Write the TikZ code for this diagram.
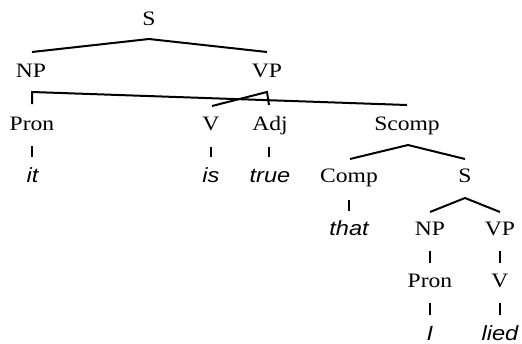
\documentclass[tikz,border=0pt]{standalone}
\usepackage{fontspec}
\setmainfont[FakeStretch=1.15]{Liberation Serif}
\newfontfamily\wordfont[FakeStretch=1.15]{Liberation Sans}
\begin{document}
\begin{tikzpicture}[x=1pt,y=-1pt,
  cat/.style={anchor=base,inner sep=0pt,font=\fontsize{20.5}{21}\selectfont},
  word/.style={anchor=base,inner sep=0pt,font=\fontsize{20.5}{21}\selectfont\wordfont\itshape},
  branch/.style={line width=2pt,line join=miter},
  tick/.style={line width=2pt}]
\useasboundingbox (0,0) rectangle (522,343);
% row 1
\node[cat] (S) at (149,25) {S};
% row 2
\node[cat] (NP) at (31,77.5) {NP};
\node[cat] (VP) at (267,77.5) {VP};
% row 3
\node[cat] (Pron) at (32,130) {Pron};
\node[cat] (V) at (211,130) {V};
\node[cat] (Adj) at (270,130) {Adj};
\node[cat] (Scomp) at (407,130) {Scomp};
% row 4
\node[word] (it) at (32.5,182.5) {it};
\node[word] (is) at (211,182.5) {is};
\node[word] (true) at (270,182.5) {true};
\node[cat] (Comp) at (349,182.5) {Comp};
\node[cat] (S2) at (465,182.5) {S};
% row 5
\node[word] (that) at (349,235) {that};
\node[cat] (NP2) at (430,235) {NP};
\node[cat] (VP2) at (500,235) {VP};
% row 6
\node[cat] (Pron2) at (430,287.5) {Pron};
\node[cat] (V2) at (500,287.5) {V};
% row 7
\node[word] (I) at (430,340) {I};
\node[word] (lied) at (500,340) {lied};

% connector end points
\coordinate (S-a) at (149,39);
\coordinate (NP-t) at (32,52);
\coordinate (VP-t) at (267,52);
\coordinate (NP-a) at (32,92);
\coordinate (Pron-t) at (32,104);
\coordinate (Scomp-t) at (407,105);
\coordinate (VP-a) at (267,92);
\coordinate (V-t) at (212,106);
\coordinate (Adj-t) at (269,105);
\coordinate (Scomp-a) at (408,145);
\coordinate (Comp-t) at (350,159);
\coordinate (S2-t) at (465,159);
\coordinate (S2-a) at (465,198);
\coordinate (NP2-t) at (430,212);
\coordinate (VP2-t) at (500,212);

\draw[branch] (NP-t) -- (S-a) -- (VP-t);
\draw[branch] (Pron-t) -- (NP-a) -- (Scomp-t);
\draw[branch] (V-t) -- (VP-a) -- (Adj-t);
\draw[branch] (Comp-t) -- (Scomp-a) -- (S2-t);
\draw[branch] (NP2-t) -- (S2-a) -- (VP2-t);

% short ticks
\draw[tick] (32,146) -- (32,157);
\draw[tick] (211,147) -- (211,157);
\draw[tick] (269,147) -- (269,157);
\draw[tick] (349,200) -- (349,211);
\draw[tick] (430,251) -- (430,263);
\draw[tick] (500,251) -- (500,263);
\draw[tick] (430,303) -- (430,315);
\draw[tick] (500,303) -- (500,315);
\end{tikzpicture}
\end{document}
